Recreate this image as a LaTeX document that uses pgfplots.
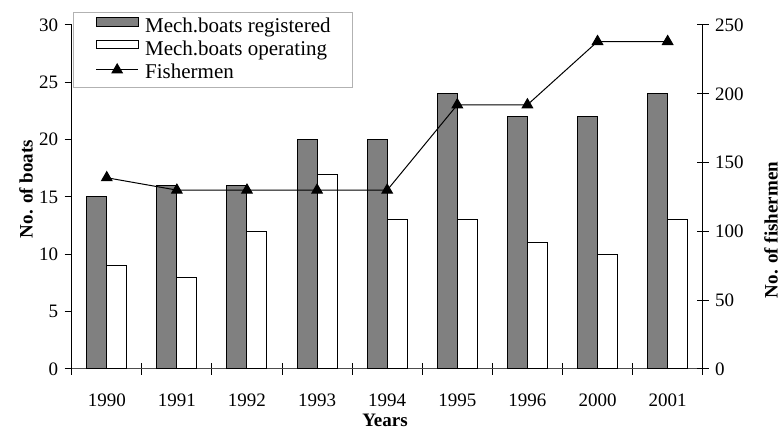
\documentclass[border=0pt]{standalone}
\usepackage{pgfplots}
\pgfplotsset{compat=1.18}
\usepackage{fontspec}
\setmainfont{Liberation Serif}
\definecolor{barg}{RGB}{128,128,128}
\begin{document}
\begin{tikzpicture}[x=1pt,y=1pt]
\path (0,0) rectangle (784,435);
\begin{axis}[
  name=ax,
  at={(71.7pt,66pt)}, anchor=south west,
  scale only axis, width=631pt, height=344pt,
  xmin=-0.5, xmax=8.5, ymin=0, ymax=30,
  axis x line*=bottom, axis y line*=left,
  axis line style={-},
  x axis line style={black!70, line width=1pt, -},
  y axis line style={black, line width=1pt, -},
  ybar=0pt, bar width=20pt,
  xtick={0,...,8},
  xticklabels={1990,1991,1992,1993,1994,1995,1996,2000,2001},
  major x tick style={draw=none},
  minor xtick={-0.5,0.5,...,8.5},
  minor x tick style={black, line width=1pt},
  xtick align=center, minor tick length=12pt,
  ytick={0,5,...,30}, ytick align=outside,
  major tick length=7pt,
  y tick style={black, line width=1pt},
  tick label style={font=\fontsize{19}{22}\selectfont},
  /pgf/number format/assume math mode=true,
  xticklabel style={yshift=-17.5pt},
  yticklabel style={xshift=-3pt},
]
\addplot[fill=barg, draw=black, line width=1pt]
  coordinates {(0,15) (1,16) (2,16) (3,20) (4,20) (5,24) (6,22) (7,22) (8,24)};
\addplot[fill=white, draw=black, line width=1pt]
  coordinates {(0,9) (1,8) (2,12) (3,17) (4,13) (5,13) (6,11) (7,10) (8,13)};
\end{axis}
\begin{axis}[
  at={(71.7pt,66pt)}, anchor=south west,
  scale only axis, width=631pt, height=344pt,
  xmin=-0.5, xmax=8.5, ymin=0, ymax=250,
  axis x line=none, axis y line*=right,
  axis line style={-},
  y axis line style={black, line width=1pt, -},
  ytick={0,50,...,250}, ytick align=center, major tick length=12pt,
  y tick style={black, line width=1pt},
  tick label style={font=\fontsize{19}{22}\selectfont},
  /pgf/number format/assume math mode=true,
  yticklabel style={xshift=3pt},
  legend style={at={(0.0025,1.0387)}, anchor=north west,
    draw=black!30, line width=0.8pt, fill=white,
    inner xsep=22pt, inner ysep=4pt,
    row sep=1.1pt, column sep=6.5pt,
    nodes={inner sep=0pt, text height=16.6pt, text depth=5pt, font=\fontsize{21}{24}\selectfont}},
  legend cell align=left,
]
\addlegendimage{legend image code/.code={\draw[fill=barg, draw=black, line width=1pt] (0pt,0.6pt) rectangle (42pt,9pt);}}
\addlegendentry{Mech.boats registered}
\addlegendimage{legend image code/.code={\draw[fill=white, draw=black, line width=1pt] (0pt,0.6pt) rectangle (42pt,9pt);}}
\addlegendentry{Mech.boats operating}
\addplot[black, line width=1pt, mark=triangle*, mark size=6pt, mark options={solid},
  legend image code/.code={\draw[black, line width=1pt] (0pt,2.3pt) -- (42pt,2.3pt); \draw[black, mark=triangle*, mark size=6pt] plot coordinates {(21pt,2.3pt)};}]
  coordinates {(0,139) (1,130) (2,130) (3,130) (4,130) (5,192) (6,192) (7,238) (8,238)};
\addlegendentry{Fishermen}
\end{axis}
\node[rotate=90, font=\fontsize{19}{22}\selectfont\bfseries] at (26,246) {No. of boats};
\node[rotate=90, font=\fontsize{19}{22}\selectfont\bfseries] at (771,205) {No. of fishermen};
\node[anchor=base, inner sep=0pt, font=\fontsize{19}{22}\selectfont\bfseries] at (385,8) {Years};
\end{tikzpicture}
\end{document}
